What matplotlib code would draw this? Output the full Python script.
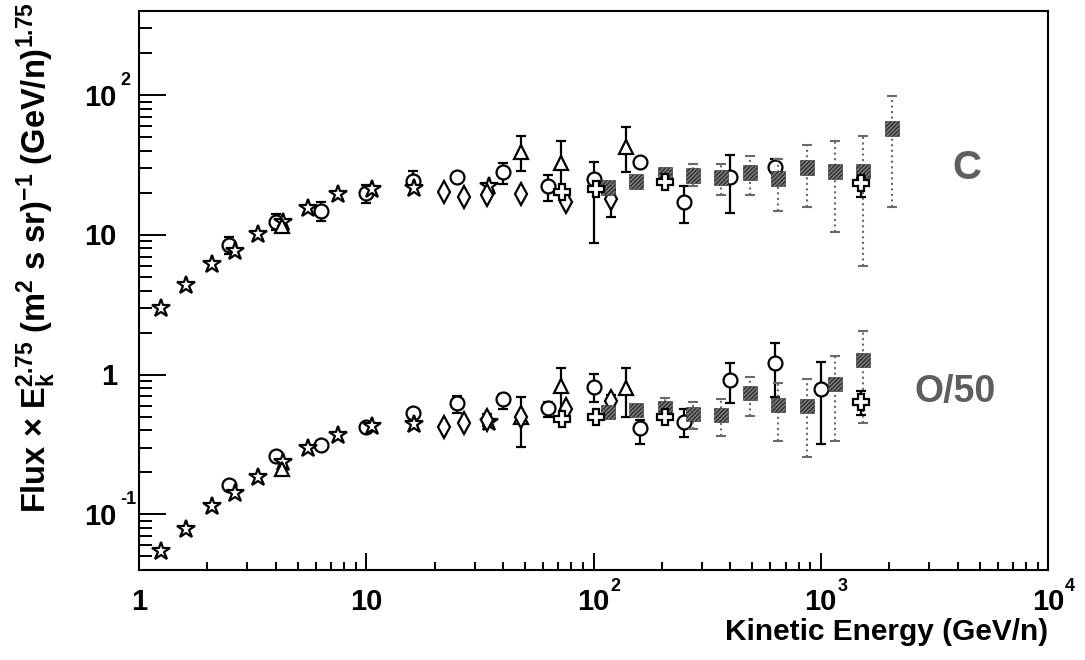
import numpy as np
import matplotlib
matplotlib.use('Agg')
import matplotlib.pyplot as plt
from matplotlib.ticker import LogLocator, NullFormatter
from matplotlib.transforms import blended_transform_factory, offset_copy

# ---- data (GeV/n, flux x E^2.75) ----
# open stars
e_star = [1.25, 1.61, 2.10, 2.65, 3.34, 4.30, 5.55, 7.5, 10.6, 16.2, 34.7]
c_star = [3.01, 4.40, 6.22, 7.70, 10.2, 12.4, 15.7, 19.7, 21.4, 21.8, 22.2]
o_star = [0.0545, 0.0783, 0.1145, 0.142, 0.185, 0.237, 0.298, 0.370, 0.429, 0.443, 0.458]

# open circles
e_circ_c = [2.5, 4.0, 6.3, 10, 16, 25, 40, 63, 100, 160, 250, 400, 630]
c_circ = [8.5, 12.4, 14.9, 20.1, 24.5, 26.1, 28.4, 22.2, 25.3, 33.5, 17.3, 26.1, 30.8]
c_circ_lo = [7.3, 10.9, 12.6, 17.0, 22.5, 25.0, 23.3, 17.6, 8.8, 32.0, 12.2, 14.4, 27.5]
c_circ_hi = [9.7, 14.0, 17.2, 22.8, 28.8, 27.2, 32.9, 27.0, 33.5, 35.0, 22.5, 37.6, 35.2]
e_circ_o = [2.5, 4.0, 6.3, 10, 16, 25, 40, 63, 100, 160, 250, 400, 630, 1000]
o_circ = [0.162, 0.261, 0.313, 0.422, 0.532, 0.627, 0.670, 0.577, 0.816, 0.415, 0.458, 0.916, 1.21, 0.79]
o_circ_lo = [0.155, 0.250, 0.300, 0.410, 0.510, 0.532, 0.568, 0.497, 0.637, 0.3185, 0.358, 0.627, 0.692, 0.3185]
o_circ_hi = [0.170, 0.272, 0.325, 0.435, 0.555, 0.700, 0.730, 0.640, 1.010, 0.470, 0.568, 1.213, 1.687, 1.233]

# open triangles
e_tri = [4.26, 48, 72, 139]
c_tri = [11.6, 39.5, 32.9, 42.9]
c_tri_lo = [11.6, 28.8, 19.4, 28.4]
c_tri_hi = [11.6, 51.4, 46.6, 58.7]
o_tri = [0.211, 0.497, 0.830, 0.803]
o_tri_lo = [0.211, 0.303, 0.497, 0.497]
o_tri_hi = [0.211, 0.692, 1.117, 1.117]

# open diamonds
e_dia = [22, 27, 34, 48, 76, 119]
c_dia = [20.4, 18.8, 19.4, 19.7, 17.3, 18.2]
c_dia_lo = [20.4, 18.8, 19.4, 19.7, 17.3, 13.5]
c_dia_hi = [20.4, 18.8, 19.4, 19.7, 17.3, 21.0]
o_dia = [0.422, 0.4505, 0.473, 0.497, 0.568, 0.648]
o_dia_lo = [0.422, 0.4505, 0.430, 0.497, 0.568, 0.600]
o_dia_hi = [0.422, 0.4505, 0.520, 0.497, 0.568, 0.715]

# open crosses
e_cross = [72.7, 102.6, 206, 1503]
c_cross = [20.4, 21.4, 24.1, 23.7]
c_cross_lo = [20.4, 21.4, 24.1, 18.8]
c_cross_hi = [20.4, 21.4, 24.1, 25.5]
o_cross = [0.481, 0.497, 0.497, 0.637]
o_cross_lo = [0.481, 0.497, 0.497, 0.514]
o_cross_hi = [0.481, 0.497, 0.497, 0.764]

# hatched squares
e_sq_c = [116, 154, 206, 274, 364, 488, 649, 869, 1156, 1535, 2059]
c_sq = [21.8, 24.1, 27.0, 26.6, 25.7, 27.9, 25.3, 30.3, 28.4, 28.8, 57.7]
c_sq_lo = [20.1, 22.6, 25.5, 22.2, 19.4, 19.4, 14.9, 15.9, 10.5, 6.02, 15.9]
c_sq_hi = [23.7, 25.6, 28.5, 31.9, 31.9, 36.4, 35.2, 44.3, 46.6, 51.4, 97.9]
e_sq_o = [116, 154, 206, 274, 364, 488, 649, 869, 1156, 1535]
o_sq = [0.540, 0.558, 0.577, 0.523, 0.514, 0.739, 0.607, 0.597, 0.858, 1.275]
o_sq_lo = [0.51, 0.53, 0.49, 0.408, 0.364, 0.506, 0.335, 0.257, 0.335, 0.451]
o_sq_hi = [0.57, 0.59, 0.681, 0.637, 0.670, 0.963, 0.872, 0.932, 1.362, 2.057]

x_ticks = [1, 10, 100, 1000, 10000]
x_tick_base = ['1', '10', '10', '10', '10']
x_tick_exp = ['', '', '2', '3', '4']
y_ticks = [0.1, 1, 10, 100]
y_tick_base = ['10', '1', '10', '10']
y_tick_exp = ['-1', '', '', '2']

plt.rcParams['font.family'] = ['Liberation Sans', 'DejaVu Sans']
plt.rcParams['font.weight'] = 'bold'
plt.rcParams['mathtext.fontset'] = 'custom'
plt.rcParams['mathtext.rm'] = 'Liberation Sans:bold'
plt.rcParams['mathtext.it'] = 'Liberation Sans:bold'
plt.rcParams['mathtext.bf'] = 'Liberation Sans:bold'
plt.rcParams['mathtext.default'] = 'rm'
plt.rcParams['hatch.linewidth'] = 1.0
plt.rcParams['hatch.color'] = '#2e2e2e'

fig = plt.figure(figsize=(10.85, 6.6), dpi=100)
ax = fig.add_axes([139 / 1085, 90 / 660, 909 / 1085, 559 / 660])
ax.set_xscale('log')
ax.set_yscale('log')
ax.set_xlim(1, 1e4)
ax.set_ylim(0.04, 400)


def draw(e, v, lo, hi, marker, ms, ecolor='black', ls='-', z=3):
    v = np.asarray(v, dtype=float)
    if lo is not None:
        yerr = [v - np.asarray(lo), np.asarray(hi) - v]
        eb = ax.errorbar(e, v, yerr=yerr, fmt='none', ecolor=ecolor, elinewidth=1.6,
                         capsize=3.5, capthick=1.6, zorder=z)
        if ls != '-':
            eb[2][0].set_linestyle(ls)
    ax.plot(e, v, ls='none', marker=marker, ms=ms, mfc='white', mec='black',
            mew=1.6, zorder=z + 0.1)


def draw_sq(e, v, lo, hi, z=5):
    v = np.asarray(v, dtype=float)
    yerr = [v - np.asarray(lo), np.asarray(hi) - v]
    eb = ax.errorbar(e, v, yerr=yerr, fmt='none', ecolor='#6a6a6a', elinewidth=1.5,
                     capsize=3.5, capthick=1.5, zorder=z)
    eb[2][0].set_linestyle(':')
    ax.scatter(e, v, marker='s', s=105, facecolor='#7c7c7c', edgecolor='#2e2e2e',
               hatch='////////', linewidths=0.4, zorder=z + 0.1)


for vals, lo, hi, e in [(c_circ, c_circ_lo, c_circ_hi, e_circ_c),
                        (o_circ, o_circ_lo, o_circ_hi, e_circ_o)]:
    draw(e, vals, lo, hi, 'o', 10)
for vals in (c_star, o_star):
    draw(e_star, vals, None, None, '*', 13.5, z=3.2)
draw(e_tri, c_tri, c_tri_lo, c_tri_hi, '^', 10.5, z=3.3)
draw(e_tri, o_tri, o_tri_lo, o_tri_hi, '^', 10.5, z=3.3)
draw(e_dia, c_dia, c_dia_lo, c_dia_hi, 'd', 11, z=3.4)
draw(e_dia, o_dia, o_dia_lo, o_dia_hi, 'd', 11, z=3.4)
draw_sq(e_sq_c, c_sq, c_sq_lo, c_sq_hi)
draw_sq(e_sq_o, o_sq, o_sq_lo, o_sq_hi)
draw(e_cross, c_cross, c_cross_lo, c_cross_hi, 'P', 11, z=6)
draw(e_cross, o_cross, o_cross_lo, o_cross_hi, 'P', 11, z=6)

# ROOT-like frame and ticks
for s in ax.spines.values():
    s.set_linewidth(1.5)
ax.xaxis.set_major_locator(LogLocator(base=10, numticks=10))
ax.xaxis.set_minor_locator(LogLocator(base=10, subs=np.arange(2, 10), numticks=50))
ax.yaxis.set_major_locator(LogLocator(base=10, numticks=10))
ax.yaxis.set_minor_locator(LogLocator(base=10, subs=np.arange(2, 10), numticks=50))
ax.xaxis.set_minor_formatter(NullFormatter())
ax.yaxis.set_minor_formatter(NullFormatter())
ax.tick_params(which='both', direction='in', top=False, right=False,
               labelbottom=False, labelleft=False, width=1.4)
ax.tick_params(axis='x', which='major', length=12)
ax.tick_params(axis='x', which='minor', length=6)
ax.tick_params(axis='y', which='major', length=19.5)
ax.tick_params(axis='y', which='minor', length=9.7)

xt = blended_transform_factory(ax.transData, ax.transAxes)
for v, base, ex in zip(x_ticks, x_tick_base, x_tick_exp):
    ax.text(v, 0, base, transform=offset_copy(xt, fig=fig, y=-40, units='dots'),
            ha='center', va='baseline', fontsize=21)
    if ex:
        ax.text(v, 0, ex, transform=offset_copy(xt, fig=fig, x=17, y=-21, units='dots'),
                ha='left', va='baseline', fontsize=13)

yt = blended_transform_factory(ax.transAxes, ax.transData)
for v, base, ex in zip(y_ticks, y_tick_base, y_tick_exp):
    ax.text(0, v, base, transform=offset_copy(yt, fig=fig, x=-22, y=-10.5, units='dots'),
            ha='right', va='baseline', fontsize=21)
    if ex:
        ax.text(0, v, ex, transform=offset_copy(yt, fig=fig, x=-19, y=10, units='dots'),
                ha='left', va='baseline', fontsize=13)

fig.text(36 / 1085, 1 - 2 / 660,
         r'Flux $\times$ E$_{k}^{2.75}$ (m$^{2}$ s sr)$^{-1}$ (GeV/n)$^{1.75}$',
         rotation=90, ha='center', va='top', fontsize=23.5)
fig.text(1048 / 1085, 1 - 640 / 660, 'Kinetic Energy (GeV/n)',
         ha='right', va='baseline', fontsize=21.5)

ax.text(4400, 30.3, 'C', ha='center', va='center', fontsize=29, color='#5e5e5e')
ax.text(3900, 0.751, 'O/50', ha='center', va='center', fontsize=27, color='#5e5e5e')

fig.savefig('out.png', dpi=100)
